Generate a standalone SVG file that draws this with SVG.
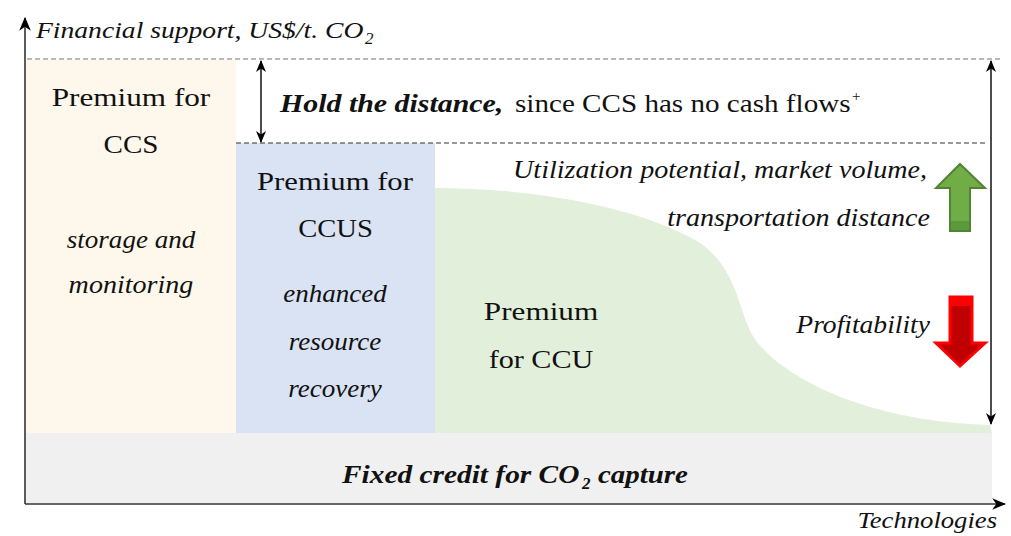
<svg xmlns="http://www.w3.org/2000/svg" width="1011" height="536" viewBox="0 0 1011 536">
  <style>
    .axis { stroke: #333; stroke-width: 1.6; fill: none; }
    .dim { stroke: #000; stroke-width: 1.4; fill: none; }
  </style>
  <defs>
    <marker id="head" viewBox="0 0 12 10" refX="11" refY="5" markerWidth="12" markerHeight="10" markerUnits="userSpaceOnUse" orient="auto-start-reverse">
      <path d="M0,0 L12,5 L0,10 L3.5,5 Z" fill="#000"/>
    </marker>
    <marker id="axhead" viewBox="0 0 12 10" refX="11" refY="5" markerWidth="14" markerHeight="12" markerUnits="userSpaceOnUse" orient="auto">
      <path d="M0,0 L12,5 L0,10 L3.5,5 Z" fill="#000"/>
    </marker>
  </defs>

  <!-- premium bands; labels are widened slightly with a horizontal scale -->
  <g id="ccs">
    <rect x="26" y="60" width="210" height="373" fill="#FEF8EC"/>
    <text font-family="Liberation Serif" font-size="26" fill="#111" text-anchor="middle" transform="translate(131 106) scale(1.2 1)">Premium for</text>
    <text font-family="Liberation Serif" font-size="26" fill="#111" text-anchor="middle" transform="translate(131 153) scale(1.12 1)">CCS</text>
    <text font-family="Liberation Serif" font-size="26" fill="#111" font-style="italic" text-anchor="middle" transform="translate(131 248) scale(1.04 1)">storage and</text>
    <text font-family="Liberation Serif" font-size="26" fill="#111" font-style="italic" text-anchor="middle" transform="translate(131 293) scale(1.08 1)">monitoring</text>
  </g>

  <g id="ccus">
    <rect x="236" y="143" width="199" height="290" fill="#DAE3F3"/>
    <text font-family="Liberation Serif" font-size="26" fill="#111" text-anchor="middle" transform="translate(335 190) scale(1.18 1)">Premium for</text>
    <text font-family="Liberation Serif" font-size="26" fill="#111" text-anchor="middle" transform="translate(335.5 237) scale(1.1 1)">CCUS</text>
    <text font-family="Liberation Serif" font-size="26" fill="#111" font-style="italic" text-anchor="middle" transform="translate(335 302) scale(1.04 1)">enhanced</text>
    <text font-family="Liberation Serif" font-size="26" fill="#111" font-style="italic" text-anchor="middle" transform="translate(335 350) scale(1.04 1)">resource</text>
    <text font-family="Liberation Serif" font-size="26" fill="#111" font-style="italic" text-anchor="middle" transform="translate(335 397) scale(1.04 1)">recovery</text>
  </g>

  <g id="ccu">
    <path d="M435,188 C520,188 630,203 695,240 C740,266 738,318 757,342 C787,380 870,422 990,425 L992,433 L435,433 Z" fill="#E2EFDA"/>
    <text font-family="Liberation Serif" font-size="26" fill="#111" text-anchor="middle" transform="translate(541 320) scale(1.2 1)">Premium</text>
    <text font-family="Liberation Serif" font-size="26" fill="#111" text-anchor="middle" transform="translate(541 368) scale(1.16 1)">for CCU</text>
  </g>

  <g id="credit">
    <rect x="26" y="433" width="966" height="70" fill="#F0F0F0"/>
    <text font-family="Liberation Serif" font-size="26" fill="#111" font-style="italic" font-weight="bold" transform="translate(342 483) scale(1.13 1)">Fixed credit for CO</text>
    <text font-family="Liberation Serif" font-size="17" fill="#111" font-style="italic" font-weight="bold" x="582" y="489">2</text>
    <text font-family="Liberation Serif" font-size="26" fill="#111" font-style="italic" font-weight="bold" transform="translate(598 483) scale(1.11 1)">capture</text>
  </g>

  <!-- reference levels -->
  <g id="levels">
    <line x1="27" y1="59" x2="1000" y2="59" stroke="#777" stroke-width="1.2" stroke-dasharray="5,3"/>
    <line x1="236" y1="143" x2="988" y2="143" stroke="#333" stroke-width="1.2" stroke-dasharray="5,3"/>
  </g>

  <g id="distance">
    <text font-family="Liberation Serif" font-size="26" fill="#111" font-style="italic" font-weight="bold" transform="translate(280 112) scale(1.15 1)">Hold the distance,</text>
    <text font-family="Liberation Serif" font-size="26" fill="#111" transform="translate(515 112) scale(1.12 1)">since CCS has no cash flows</text>
    <text font-family="Liberation Serif" font-size="15" fill="#111" x="852" y="101">+</text>
  </g>

  <g id="drivers">
    <text font-family="Liberation Serif" font-size="26" fill="#111" font-style="italic" text-anchor="end" transform="translate(927 178) scale(1.08 1)">Utilization potential, market volume,</text>
    <text font-family="Liberation Serif" font-size="26" fill="#111" font-style="italic" text-anchor="end" transform="translate(930 226) scale(1.08 1)">transportation distance</text>
    <text font-family="Liberation Serif" font-size="26" fill="#111" font-style="italic" text-anchor="end" transform="translate(930 333) scale(1.06 1)">Profitability</text>
  </g>

  <g id="up-arrow">
    <polygon points="960,164 985,188 970,188 970,231 950,231 950,188 936,188" fill="#70AD47" stroke="#548235" stroke-width="2" stroke-linejoin="miter"/>
    <rect x="951" y="221" width="18" height="9" fill="#5B9A3A"/>
  </g>

  <g id="down-arrow">
    <polygon points="950,297 972,297 972,343 985,343 960,366 936,343 950,343" fill="#C00000" stroke="#FF0000" stroke-width="3" stroke-linejoin="miter"/>
    <rect x="950" y="297" width="22" height="9" fill="#FF0000"/>
  </g>

  <!-- connectors: dimension arrows and axes -->
  <g id="connectors">
    <line class="dim" x1="261" y1="61" x2="261" y2="142" marker-start="url(#head)" marker-end="url(#head)"/>
    <line class="dim" x1="991" y1="61" x2="991" y2="424" marker-start="url(#head)" marker-end="url(#head)"/>
    <line class="axis" x1="25" y1="504" x2="25" y2="18" marker-end="url(#axhead)"/>
    <line class="axis" x1="25" y1="504" x2="1005" y2="504" marker-end="url(#axhead)"/>
  </g>

  <g id="axis-labels">
    <text font-family="Liberation Serif" font-size="24" fill="#111" font-style="italic" transform="translate(36 38) scale(1.15 1)">Financial support, US$/t. CO</text>
    <text font-family="Liberation Serif" font-size="17" fill="#111" font-style="italic" x="365" y="44">2</text>
    <text font-family="Liberation Serif" font-size="24" fill="#111" font-style="italic" text-anchor="end" transform="translate(997 528) scale(1.11 1)">Technologies</text>
  </g>
</svg>
